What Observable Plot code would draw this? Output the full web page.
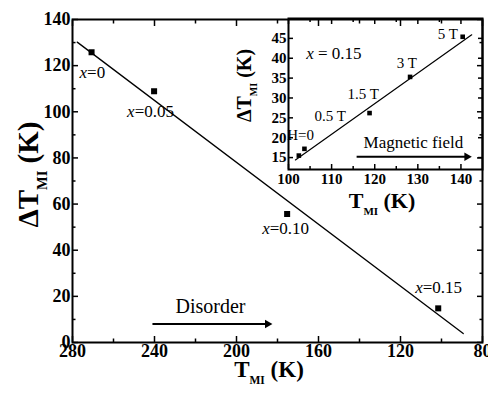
<!DOCTYPE html>
<html><head><meta charset="utf-8">
<script src="https://cdn.jsdelivr.net/npm/d3@7"></script>
<script src="https://cdn.jsdelivr.net/npm/@observablehq/plot@0.6"></script>
<style>
html,body{margin:0;padding:0;background:#fff;}
#wrap{position:relative;width:488px;height:393px;overflow:hidden;background:#fff;}
#wrap svg{position:absolute;}
</style></head><body><div id="wrap"></div>
<script>
// ---- main panel data ----
const mainTMI = [270.7, 240.2, 175.3, 101.6];
const mainDTMI = [125.8, 108.9, 55.7, 14.8];
const mainLabels = ["x=0", "x=0.05", "x=0.10", "x=0.15"];
const mainFitT = [277.7, 89.4];
const mainFitDT = [130.2, 3.9];
const disorderT = [241, 184.4];
const disorderDT = [8, 8];
const disorderText = "Disorder";
const mainXTicks = [280, 240, 200, 160, 120, 80];
const mainXMinor = [260, 220, 180, 140, 100];
const mainYTicks = [0, 20, 40, 60, 80, 100, 120, 140];
const mainYMinor = [10, 30, 50, 70, 90, 110, 130];
const mainXLabel = "T_MI (K)";
const mainYLabel = "ΔT_MI (K)";
// ---- inset data ----
const insetTMI = [102.4, 103.7, 118.8, 128.2, 140.4];
const insetDTMI = [15.5, 17.2, 26.2, 35.3, 45.4];
const insetLabels = ["H=0", "0.5 T", "1.5 T", "3 T", "5 T"];
const insetFitT = [101.6, 142.5];
const insetFitDT = [14.4, 45.9];
const fieldT = [115.8, 141.6];
const fieldDT = [15.2, 15.2];
const fieldText = "Magnetic field";
const insetTitle = "x = 0.15";
const insetTitlePos = [104.1, 39.7];
const insetXTicks = [100, 110, 120, 130, 140];
const insetXMinor = [105, 115, 125, 135];
const insetYTicks = [15, 20, 25, 30, 35, 40, 45];
const insetXLabel = "T_MI (K)";
const insetYLabel = "ΔT_MI (K)";

const FONT = '"Liberation Serif", "Times New Roman", Times, serif';

// label layout offsets (pixels), per label
const mainLabelOff = [[-12, 26], [-27, 26], [-25, 20], [-23, -15]];
const insetLabelOff = [[-11.6, -16], [10, -28], [-22, -14], [-13.3, -8.5], [-25, 2.3]];

function tickAxes(axis, ticks, minor, anchors, major, minorLen) {
  const out = [];
  for (const a of anchors) {
    out.push(axis(ticks, {anchor: a, tickSize: -major, fill: "none", label: null, strokeWidth: 1.5}));
    if (minor) out.push(axis(minor, {anchor: a, tickSize: -minorLen, fill: "none", label: null, strokeWidth: 1.5}));
  }
  return out;
}

const mainPts = mainTMI.map((t, i) => ({t, d: mainDTMI[i], label: mainLabels[i]}));
const insetPts = insetTMI.map((t, i) => ({t, d: insetDTMI[i], label: insetLabels[i]}));

const main = Plot.plot({
  width: 488, height: 393,
  marginLeft: 72, marginRight: 6, marginTop: 19, marginBottom: 51,
  style: {fontFamily: FONT, background: "transparent", color: "black", overflow: "visible"},
  x: {domain: [280, 80]},
  y: {domain: [0, 140]},
  marks: [
    Plot.axisX(mainXTicks, {anchor: "bottom", tickSize: 0, tickPadding: 2, fontSize: 18, fontWeight: "bold", label: null}),
    Plot.axisY(mainYTicks, {anchor: "left", tickSize: 0, tickPadding: 2, fontSize: 18, fontWeight: "bold", label: null}),
    ...tickAxes(Plot.axisX, mainXTicks, mainXMinor, ["bottom", "top"], 6, 3.5),
    ...tickAxes(Plot.axisY, mainYTicks, mainYMinor, ["left", "right"], 6, 3.5),
    Plot.frame({stroke: "black", strokeWidth: 2}),
    Plot.line(mainFitT.map((t, i) => [t, mainFitDT[i]]), {stroke: "black", strokeWidth: 1.3}),
    Plot.dot(mainPts, {x: "t", y: "d", symbol: "square", r: 3.4, fill: "black", stroke: "none"}),
    ...mainPts.map((p, i) => Plot.text([p], {x: "t", y: "d", text: "label", textAnchor: "start", lineAnchor: "bottom",
      dx: mainLabelOff[i][0], dy: mainLabelOff[i][1], fontSize: 17})),
    Plot.link([0], {x1: () => disorderT[0], x2: () => disorderT[1], y1: () => disorderDT[0], y2: () => disorderDT[1], stroke: "black", strokeWidth: 2}),
    Plot.dot([0], {x: () => disorderT[1], y: () => disorderDT[1], symbol: "triangle", rotate: 90, r: 3.2, fill: "black", stroke: "none", dx: -1}),
    Plot.text([disorderText], {x: () => disorderT[0], y: () => disorderDT[0], text: d => d, textAnchor: "start", lineAnchor: "bottom", dx: 23, dy: -11.5, fontSize: 20}),
    Plot.text([mainXLabel], {frameAnchor: "bottom", text: d => d, textAnchor: "middle", lineAnchor: "bottom", dx: -8.5, dy: 34, fontSize: 23, fontWeight: "bold"}),
    Plot.text([mainYLabel], {frameAnchor: "left", text: d => d, rotate: -90, textAnchor: "middle", lineAnchor: "bottom", dx: -35, dy: -6.5, fontSize: 29, fontWeight: "bold"})
  ]
});

const inset = Plot.plot({
  width: 288, height: 220,
  marginLeft: 88, marginRight: 6, marginTop: 18, marginBottom: 51,
  style: {fontFamily: FONT, background: "transparent", color: "black", overflow: "visible"},
  x: {domain: [100, 145]},
  y: {domain: [12, 50]},
  marks: [
    Plot.axisX(insetXTicks, {anchor: "bottom", tickSize: 0, tickPadding: 4, fontSize: 15, fontWeight: "bold", label: null}),
    Plot.axisY(insetYTicks, {anchor: "left", tickSize: 0, tickPadding: 2, fontSize: 15, fontWeight: "bold", label: null}),
    ...tickAxes(Plot.axisX, insetXTicks, insetXMinor, ["bottom", "top"], 5, 3),
    ...tickAxes(Plot.axisY, insetYTicks, null, ["left", "right"], 5, 3),
    Plot.frame({stroke: "black", strokeWidth: 2}),
    Plot.line(insetFitT.map((t, i) => [t, insetFitDT[i]]), {stroke: "black", strokeWidth: 1.2}),
    Plot.dot(insetPts, {x: "t", y: "d", symbol: "square", r: 2.6, fill: "black", stroke: "none"}),
    ...insetPts.map((p, i) => Plot.text([p], {x: "t", y: "d", text: "label", textAnchor: "start", lineAnchor: "bottom",
      dx: insetLabelOff[i][0], dy: insetLabelOff[i][1], fontSize: 15})),
    Plot.text([insetTitle], {x: () => insetTitlePos[0], y: () => insetTitlePos[1], text: d => d, textAnchor: "start", lineAnchor: "bottom", fontSize: 17}),
    Plot.link([0], {x1: () => fieldT[0], x2: () => fieldT[1], y1: () => fieldDT[0], y2: () => fieldDT[1], stroke: "black", strokeWidth: 2}),
    Plot.dot([0], {x: () => fieldT[1], y: () => fieldDT[1], symbol: "triangle", rotate: 90, r: 3.2, fill: "black", stroke: "none", dx: -1}),
    Plot.text([fieldText], {x: () => fieldT[0], y: () => fieldDT[0], text: d => d, textAnchor: "start", lineAnchor: "bottom", dx: 7, dy: -8.4, fontSize: 17}),
    Plot.text([insetXLabel], {frameAnchor: "bottom", text: d => d, textAnchor: "middle", lineAnchor: "bottom", dx: -3.5, dy: 38, fontSize: 22, fontWeight: "bold"}),
    Plot.text([insetYLabel], {frameAnchor: "left", text: d => d, rotate: -90, textAnchor: "middle", lineAnchor: "bottom", dx: -38, dy: -8.5, fontSize: 20, fontWeight: "bold"})
  ]
});

function richify(svg) {
  d3.select(svg).selectAll("text").each(function () {
    const t = this.textContent;
    const el = d3.select(this);
    const fs = parseFloat(getComputedStyle(this).fontSize) || 16;
    if (t.includes("_MI")) {
      const [a, b] = t.split("_MI");
      el.text(null);
      el.append("tspan").text(a);
      el.append("tspan").attr("font-size", (fs * 0.5) + "px").attr("dy", (fs * 0.32)).text("MI");
      el.append("tspan").attr("dy", -(fs * 0.32)).text(b);
    } else if (/^x ?=/.test(t)) {
      el.text(null);
      el.append("tspan").attr("font-style", "italic").text("x");
      el.append("tspan").text(t.slice(1));
    }
  });
}

const wrap = document.getElementById("wrap");
wrap.appendChild(main);
inset.style.left = "200px";
inset.style.top = "0px";
wrap.appendChild(inset);
richify(main);
richify(inset);
</script>
</body></html>
